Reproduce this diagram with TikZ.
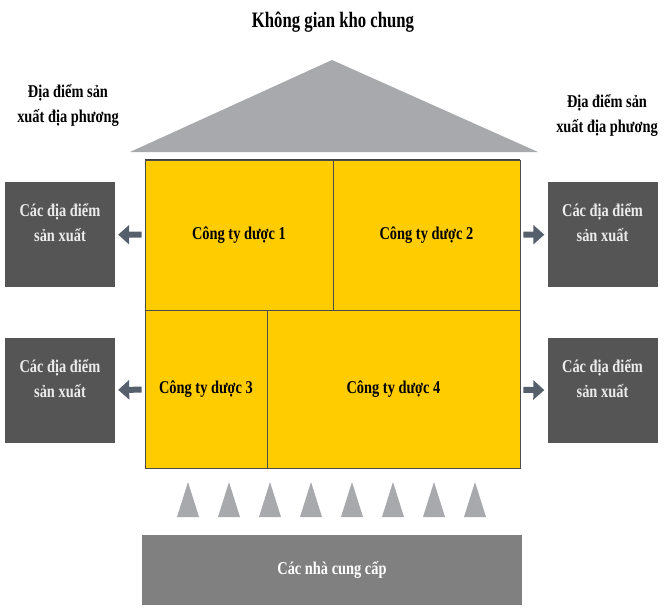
\documentclass[tikz,border=0pt]{standalone}
\usepackage{fontspec}
\setmainfont{Liberation Serif}[FakeStretch=0.8]
\usepackage{tikz}
\usetikzlibrary{arrows.meta,positioning}

\definecolor{warehouse}{HTML}{FFCC00}
\definecolor{roofgray}{HTML}{A7A9AD}
\definecolor{sitegray}{HTML}{555555}
\definecolor{suppgray}{HTML}{808080}
\definecolor{arrgray}{HTML}{56606C}

\begin{document}
\begin{tikzpicture}[
    x=1pt, y=-1pt, font=\bfseries\fontsize{18}{25}\selectfont,
    cell/.style={draw=black!70, line width=0.8pt, fill=warehouse, inner sep=0pt},
    site/.style={fill=sitegray, text=white!92!black, minimum width=110pt, minimum height=105pt, align=center, inner sep=0pt},
    arr/.style={-{Triangle[length=11pt,width=19pt]}, line width=6pt, draw=arrgray, shorten >=3pt, shorten <=3pt},
]
\useasboundingbox (0,0) rectangle (667,613);

\node (title) at (333,22) {\fontsize{22}{26}\selectfont\addfontfeature{FakeStretch=0.76}Không gian kho chung};
\fill[roofgray] (130,152) -- (332,60) -- (538,152) -- cycle;

\node[align=center] (localL) at (68,105) {Địa điểm sản\\xuất địa phương};
\node[align=center] (localR) at (607,115) {Địa điểm sản\\xuất địa phương};

% cong ty
\node[cell, minimum width=188pt, minimum height=150pt] (c1) at (239,235) {Công ty dược 1};
\node[cell, minimum width=187pt, minimum height=150pt] (c2) at (426.5,235) {Công ty dược 2};
\node[cell, minimum width=122pt, minimum height=158pt] (c3) at (206,389) {Công ty dược 3};
\node[cell, minimum width=253pt, minimum height=158pt] (c4) at (393.5,389) {Công ty dược 4};
\draw[black!75, line width=1.5pt] (c1.north west) -- (c2.north east);

% dia diem san xuat
\node[site] (l1) at (60,234.5) {Các địa điểm\\sản xuất\\ };
\node[site] (l2) at (60,390.5) {Các địa điểm\\sản xuất\\ };
\node[site] (r1) at (602.5,234.5) {Các địa điểm\\sản xuất\\ };
\node[site] (r2) at (602.5,390.5) {Các địa điểm\\sản xuất\\ };

\draw[arr] (c1) -- (l1);
\draw[arr] (c3) -- (l2);
\draw[arr] (c2) -- (r1);
\draw[arr] (c4) -- (r2);

% nha cung cap
\node[fill=suppgray, text=white, minimum width=380pt, minimum height=70pt] (supp) at (332,570) {Các nhà cung cấp};
\foreach \i in {0,...,7}
  \fill[roofgray] ({177+41*\i},517) -- ({188+41*\i},482) -- ({199+41*\i},517) -- cycle;
\end{tikzpicture}
\end{document}
